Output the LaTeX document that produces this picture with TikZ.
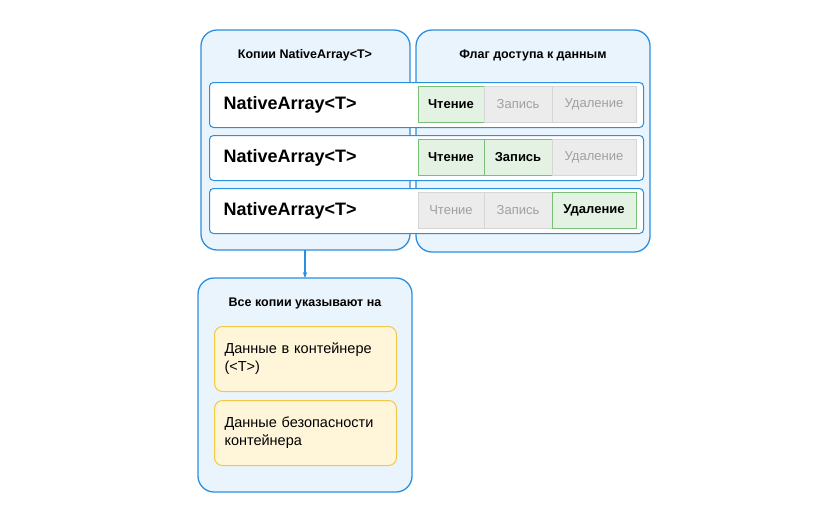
\documentclass[tikz,border=0pt]{standalone}
\usepackage{fontspec}
\setmainfont{Liberation Sans}
\usetikzlibrary{positioning,arrows.meta}
\definecolor{azul}{RGB}{42,143,224}
\definecolor{azulClaro}{RGB}{234,244,252}
\definecolor{verde}{RGB}{120,192,120}
\definecolor{verdeClaro}{RGB}{228,242,228}
\definecolor{gris}{RGB}{214,214,214}
\definecolor{grisClaro}{RGB}{236,236,236}
\definecolor{grisTexto}{RGB}{160,160,160}
\definecolor{amarillo}{RGB}{243,200,70}
\definecolor{amarilloClaro}{RGB}{255,246,218}
\tikzset{
  panel/.style={draw=azul, fill=azulClaro, line width=1.3pt, rounded corners=16pt},
  fila/.style={draw=azul, fill=white, line width=1pt, rounded corners=4pt,
               minimum height=45pt, minimum width=434pt, anchor=north west, inner sep=0pt},
  celda/.style={minimum height=36pt, inner sep=0pt, font=\fontsize{13}{15}\selectfont, line width=0.8pt},
  on/.style={celda, draw=verde, fill=verdeClaro, font=\fontsize{13}{15}\selectfont\bfseries},
  off/.style={celda, draw=gris, fill=grisClaro, text=grisTexto},
  dato/.style={draw=amarillo, fill=amarilloClaro, line width=1pt, rounded corners=8pt,
               minimum width=182pt, minimum height=65pt, anchor=north west,
               text width=162pt, align=left, font=\fontsize{14.5}{18}\selectfont},
  titulo/.style={font=\fontsize{12.5}{15}\selectfont\bfseries},
}
\begin{document}
\begin{tikzpicture}[x=1pt,y=-1pt]
    \useasboundingbox (0,0) rectangle (819,520);

    % paneles superiores
    \draw[panel] (201,30) rectangle (410,250);
    \draw[panel] (416,30) rectangle (650,252);
    \node[titulo] (copias) at (305,55) {Копии NativeArray<T>};
    \node[titulo] (flag) at (533,55) {Флаг доступа к данным};

    % filas
    \foreach \n/\y/\a/\b/\c in {1/82/on/off/off, 2/135/on/on/off, 3/188/off/off/on} {
        \node[fila] (fila\n) at (209,\y) {};
        \node[anchor=west, font=\fontsize{18}{20}\selectfont\bfseries] (na\n) at (220,\y+22.5) {NativeArray<T>};
        \node[\a, minimum width=66pt] (lee\n) at (451,\y+22.5) {Чтение};
        \node[\b, minimum width=68pt] (esc\n) at (518,\y+22.5) {Запись};
        \node[\c, minimum width=84pt] (bor\n) at (594,\y+22.5) {Удаление};
    }

    % panel inferior
    \draw[panel] (198,278) rectangle (412,492);
    \node[titulo] (todas) at (305,303) {Все копии указывают на};
    \node[dato] (datos) at (214,326) {Данные в контейнере (<T>)};
    \node[dato] (seguridad) at (214,400) {Данные безопасности контейнера};

    \coordinate (sal) at (305,250);
    \coordinate (ent) at (305,278);
    \draw[azul, line width=1.3pt, -{Stealth[length=6pt]}] (sal) -- (ent);
\end{tikzpicture}
\end{document}
